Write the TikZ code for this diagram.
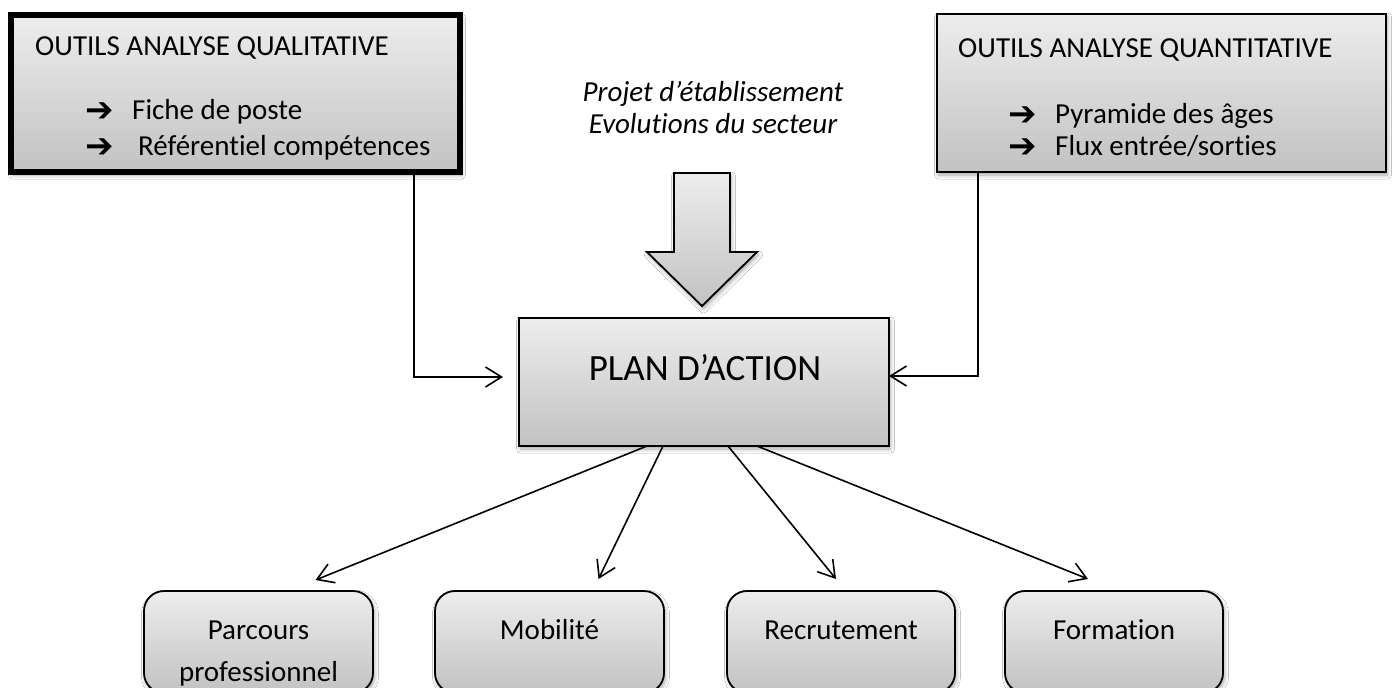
\documentclass[tikz,border=0pt]{standalone}
\usepackage{fontspec}
\setmainfont{Carlito}[Ligatures=NoCommon]
\newfontfamily\symfont{DejaVu Sans}
\usetikzlibrary{arrows.meta,shadows.blur,calc}
\definecolor{topgray}{HTML}{EDEDED}
\definecolor{botgray}{HTML}{C2C2C2}
\tikzset{
  grad/.style={top color=topgray,bottom color=botgray},
  soft/.style={blur shadow={shadow xshift=1.5pt,shadow yshift=-3pt,shadow blur radius=4pt,shadow opacity=35}},
  txt/.style={inner sep=0pt,font=\fontsize{29}{35}\selectfont},
  bigtxt/.style={inner sep=0pt,font=\fontsize{37}{44}\selectfont},
  arr/.style={inner sep=0pt,font=\symfont\bfseries\fontsize{34}{36}\selectfont},
  conn/.style={line width=1.6pt,-{Straight Barb[length=16pt,width=20pt,line width=1.6pt]}},
  boxA/.style={draw,grad,soft,line width=6pt,minimum width=449pt,minimum height=157pt,anchor=north west,inner sep=0pt,outer sep=0pt},
  boxB/.style={draw,grad,soft,line width=1.8pt,minimum width=449pt,minimum height=158pt,anchor=north west,inner sep=0pt,outer sep=0pt},
  planbox/.style={draw,grad,soft,line width=2pt,minimum width=370pt,minimum height=128pt,anchor=north west,inner sep=0pt,outer sep=0pt},
  leaf/.style={draw,grad,soft,line width=1.8pt,rounded corners=20pt,minimum height=102pt,anchor=north west,inner sep=0pt,outer sep=0pt},
}
\begin{document}
\begin{tikzpicture}[x=1pt,y=-1pt]
\useasboundingbox (0,0) rectangle (1393,688);
\fill[white] (0,0) rectangle (1393,688);

% top left box
\node[boxA] (ql) at (11,15) {};
\node[txt,anchor=base west] (qlt) at (35,55) {OUTILS ANALYSE QUALITATIVE};
\node[arr,anchor=base west] (qla1) at (85,121) {➔};
\node[txt,anchor=base west] (qlb1) at (132,119) {Fiche de poste};
\node[arr,anchor=base west] (qla2) at (85,157) {➔};
\node[txt,anchor=base west] (qlb2) at (138,155) {Référentiel compétences};

% top right box
\node[boxB] (qn) at (937,14) {};
\node[txt,anchor=base west] (qnt) at (958,57) {OUTILS ANALYSE QUANTITATIVE};
\node[arr,anchor=base west] (qna1) at (1008,125) {➔};
\node[txt,anchor=base west] (qnb1) at (1055,123) {Pyramide des âges};
\node[arr,anchor=base west] (qna2) at (1008,157) {➔};
\node[txt,anchor=base west] (qnb2) at (1055,155) {Flux entrée/sorties};

% context text
\node[txt,font=\itshape\fontsize{29}{32}\selectfont,align=center] (ctx) at (713,108) {Projet d’établissement\\Evolutions du secteur};

% big arrow
\draw[grad,soft,line width=1.8pt,line join=miter] (674,173) -- (730,173) -- (730,252) -- (757,252) -- (702,306) -- (647,252) -- (674,252) -- cycle;
\coordinate (bigtip) at (702,306);

% plan
\node[planbox] (plan) at (519,318) {};
\node[bigtxt,anchor=base] (plant) at (705,380) {PLAN D’ACTION};

% leaves
\node[leaf,minimum width=229pt] (park) at (144,591) {};
\node[leaf,minimum width=229pt] (mob) at (435,591) {};
\node[leaf,minimum width=228pt] (rec) at (727,591) {};
\node[leaf,minimum width=218pt] (form) at (1005,591) {};
\node[txt,anchor=base] (parkt1) at (park.north |- 0,639) {Parcours};
\node[txt,anchor=base] (parkt2) at (park.north |- 0,681) {professionnel};
\node[txt,anchor=base] (mobt) at (mob.north |- 0,639) {Mobilité};
\node[txt,anchor=base] (rect) at (rec.north |- 0,639) {Recrutement};
\node[txt,anchor=base] (formt) at (form.north |- 0,639) {Formation};

% connectors
\draw[conn] (ql.south -| 414,0) |- ([xshift=-16pt,yshift=5pt]plan.west);
\draw[conn] (qn.south -| 978,0) |- ([yshift=6pt]plan.east);
\draw[conn] ([xshift=-57pt]plan.south) -- ([xshift=57pt,yshift=11pt]park.north);
\draw[conn] ([xshift=-41pt]plan.south) -- ([xshift=49pt,yshift=12pt]mob.north);
\draw[conn] ([xshift=24pt]plan.south) -- ([xshift=-5pt,yshift=12pt]rec.north);
\draw[conn] ([xshift=53pt]plan.south) -- ([xshift=-26pt,yshift=12pt]form.north);
\end{tikzpicture}
\end{document}
